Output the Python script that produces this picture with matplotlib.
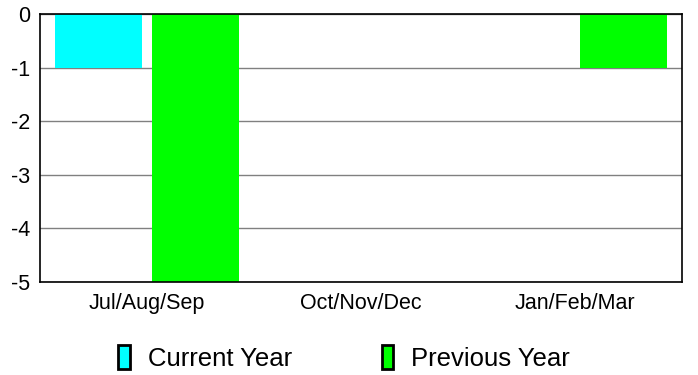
import numpy as np
import matplotlib
matplotlib.use("Agg")
import matplotlib.pyplot as plt
from matplotlib.patches import Patch

plt.rcParams['font.family'] = ['Liberation Sans', 'DejaVu Sans']

quarters = ['Jul/Aug/Sep', 'Oct/Nov/Dec', 'Jan/Feb/Mar']
current_year = [-1, 0, 0]
previous_year = [-5, 0, -1]
y_ticks = [0, -1, -2, -3, -4, -5]

cyan = '#00ffff'
green = '#00ff00'

fig = plt.figure(figsize=(6.98, 3.75), dpi=100)
ax = fig.add_axes([40 / 698, 1 - 282 / 375, 642 / 698, 268 / 375])

x = np.arange(len(quarters))
w = 0.407
off = 0.227
ax.bar(x - off, current_year, w, color=cyan, zorder=3)
ax.bar(x + off, previous_year, w, color=green, zorder=3)

ax.set_xlim(-0.5, 2.5)
ax.set_ylim(-5, 0)
ax.set_yticks(y_ticks)
ax.set_yticklabels([str(v) for v in y_ticks])
ax.set_xticks(x)
ax.set_xticklabels(quarters)
ax.tick_params(axis='both', length=0, labelsize=15.5)
ax.tick_params(axis='y', pad=7)
ax.tick_params(axis='x', pad=8)

ax.yaxis.grid(True, color='#808080', linewidth=1, zorder=1)
ax.set_axisbelow(True)
for s in ax.spines.values():
    s.set_color('black')
    s.set_linewidth(1.2)
    s.set_zorder(4)

handles = [Patch(facecolor=cyan, edgecolor='black', linewidth=2, label='Current Year'),
           Patch(facecolor=green, edgecolor='black', linewidth=2, label='Previous Year')]
fig.legend(handles=handles, loc='center', bbox_to_anchor=(0.493, 0.045), ncol=2,
           frameon=False, fontsize=18.5, handlelength=0.45, handleheight=1.05,
           handletextpad=0.7, columnspacing=3.5, borderaxespad=0, borderpad=0)

fig.savefig('out.png', dpi=100)
